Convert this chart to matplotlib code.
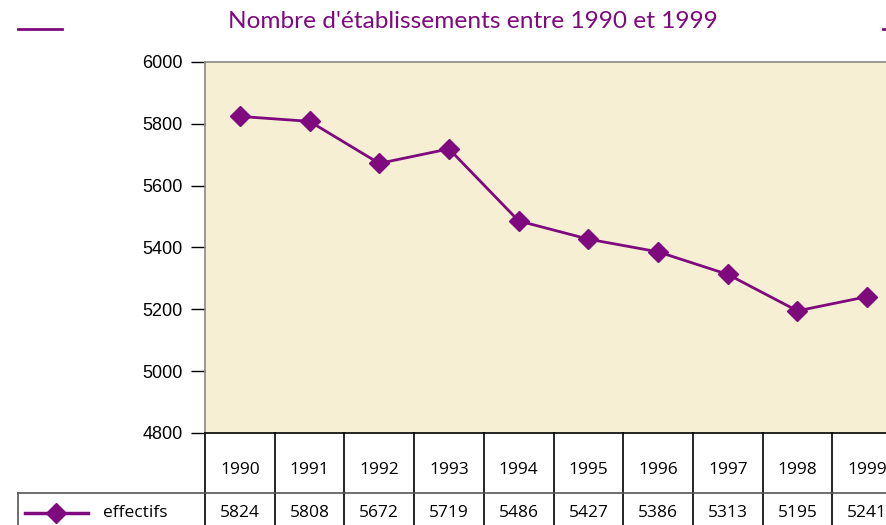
"""Nombre d'établissements 1990-1999: line chart with data table below."""

import matplotlib
matplotlib.use("Agg")
import matplotlib.pyplot as plt
import matplotlib.transforms as mtransforms
from matplotlib.lines import Line2D

years = ["1990", "1991", "1992", "1993", "1994", "1995", "1996", "1997", "1998", "1999"]
effectifs = [5824, 5808, 5672, 5719, 5486, 5427, 5386, 5313, 5195, 5241]
yticks = [4800, 5000, 5200, 5400, 5600, 5800, 6000]
title = "Nombre d'établissements entre 1990 et 1999"
series_name = "effectifs"

PURPLE = "#7e0a7e"
BG = "#f6efd4"
W, H = 887, 525

plt.rcParams["font.family"] = ["Open Sans", "DejaVu Sans"]

fig = plt.figure(figsize=(W / 100, H / 100), dpi=100)
# plot area: left edge 205px, top 62px, bottom 433px, 10 columns of ~69.7px (cropped on right)
left, top, bottom, colw = 205, 62, 433, 69.7
ax = fig.add_axes([left / W, (H - bottom) / H, colw * len(years) / W, (bottom - top) / H])
ax.set_facecolor(BG)

x = list(range(len(years)))
ax.plot(x, effectifs, color=PURPLE, lw=2, marker="D", ms=10, mfc=PURPLE, mec=PURPLE, zorder=3)
ax.set_xlim(-0.5, len(years) - 0.5)
ax.set_ylim(yticks[0], yticks[-1])
ax.set_yticks(yticks)
ax.set_yticklabels([str(t) for t in yticks], fontsize=13, family=["Liberation Sans", "DejaVu Sans"])
ax.tick_params(axis="y", length=10, width=1, pad=6, color="black")
ax.set_xticks([])
for side in ("top", "left"):
    ax.spines[side].set_color("#888888")
    ax.spines[side].set_linewidth(1.2)
ax.spines["bottom"].set_color("black")
ax.spines["bottom"].set_linewidth(1.2)
ax.spines["right"].set_visible(False)

# data table under the plot: x in data units, y in pixels from the figure top
pix = mtransforms.blended_transform_factory(ax.transData, fig.transFigure)
fy = lambda py: (H - py) / H
row1, row2 = 493, 560
for i in range(len(years) + 1):
    ax.add_line(Line2D([i - 0.5, i - 0.5], [fy(bottom), fy(row2)], transform=pix,
                       color="black", lw=1.2, clip_on=False))
fig.add_artist(Line2D([18 / W, 1], [fy(row1), fy(row1)], color="#555555", lw=1.2))
fig.add_artist(Line2D([18 / W, 18 / W], [fy(row1), 0], color="#555555", lw=1.2))
for i, (yr, v) in enumerate(zip(years, effectifs)):
    ax.text(i, fy(470), yr, transform=pix, ha="center", va="center", fontsize=12.5)
    ax.text(i, fy(513), str(v), transform=pix, ha="center", va="center", fontsize=12.5)

# legend key in the table row
fig.add_artist(Line2D([25 / W, 88 / W], [fy(513), fy(513)], color=PURPLE, lw=2.5))
fig.add_artist(Line2D([56 / W], [fy(513)], color=PURPLE, marker="D", ms=10, lw=0))
fig.text(103 / W, fy(513), series_name, ha="left", va="center", fontsize=12.5)

# title with decorative rules
fig.text(473 / W, fy(22), title, ha="center", va="center", color=PURPLE, fontsize=17.6,
         family=["Lato", "DejaVu Sans"])
fig.add_artist(Line2D([18 / W, 62 / W], [fy(29), fy(29)], color=PURPLE, lw=2))
fig.add_artist(Line2D([883 / W, 1], [fy(29), fy(29)], color=PURPLE, lw=2))

fig.savefig("out.png", dpi=100)
plt.close(fig)
